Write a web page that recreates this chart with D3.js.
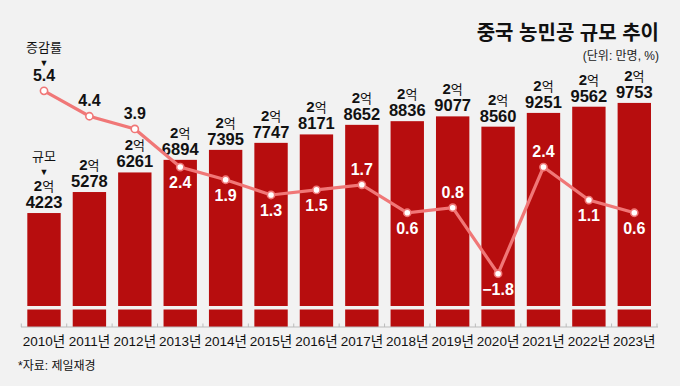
<!DOCTYPE html>
<html>
<head>
<meta charset="utf-8">
<script src="https://cdn.jsdelivr.net/npm/d3@7"></script>
<style>
  body { margin: 0; background: #f2f2f2; }
  svg { display: block; }
  text { font-family: "Liberation Sans Narrow", "Liberation Sans", "Noto Sans CJK KR", sans-serif; }
</style>
</head>
<body>
<svg id="chart"></svg>
<script>
// data (unit: 만명, %)
const years = ["2010년","2011년","2012년","2013년","2014년","2015년","2016년","2017년","2018년","2019년","2020년","2021년","2022년","2023년"];
const workers = [24223, 25278, 26261, 26894, 27395, 27747, 28171, 28652, 28836, 29077, 28560, 29251, 29562, 29753];
const growth = [5.4, 4.4, 3.9, 2.4, 1.9, 1.3, 1.5, 1.7, 0.6, 0.8, -1.8, 2.4, 1.1, 0.6];
const labelAbove = [true, true, true, false, false, false, false, true, false, true, false, true, false, false];

const W = 680, H = 386;
const barColor = "#b70d0e", lineColor = "#f07777", bg = "#f2f2f2";

const svg = d3.select("#chart").attr("width", W).attr("height", H);
svg.append("rect").attr("width", W).attr("height", H).attr("fill", bg);

const x = d3.scaleBand().domain(years).range([21.3, 657]).paddingInner(0.265).paddingOuter(0.1325);
// truncated value axis (bars are cut at the bottom)
const y = d3.scaleLinear().domain([18500, 30000]).range([327, 98]);
const yr = d3.scaleLinear().domain([-2, 6]).range([278.8, 75.6]);
const cx = d => x(d) + x.bandwidth() / 2;

// bars
svg.append("g").selectAll("rect").data(years).join("rect")
  .attr("x", d => x(d))
  .attr("y", (d, i) => y(workers[i]))
  .attr("width", x.bandwidth())
  .attr("height", (d, i) => y(18500) - y(workers[i]))
  .attr("fill", barColor);

// break gap
svg.append("rect").attr("x", 0).attr("y", 306).attr("width", W).attr("height", 3.5).attr("fill", bg);

// x axis
const xAxis = d3.axisBottom(x).tickSize(0).tickPadding(9);
const ax = svg.append("g").attr("transform", "translate(0,327)").call(xAxis);
ax.select(".domain").attr("stroke", "#bbb").attr("d", "M21,0H658");
ax.selectAll("text").attr("font-size", 13.5).attr("fill", "#111").attr("font-family", null);
const bounds = years.map(d => x(d) - x.step() * x.paddingInner() / 2).concat([657]);
svg.append("g").selectAll("line").data(bounds).join("line")
  .attr("x1", d => d).attr("x2", d => d).attr("y1", 323.5).attr("y2", 327)
  .attr("stroke", "#bbb");

// bar value labels
const vl = svg.append("g").attr("text-anchor", "middle").attr("fill", "#111");
vl.selectAll("text.eok").data(years).join("text").attr("class", "eok")
  .attr("x", cx).attr("y", (d, i) => y(workers[i]) - 22)
  .attr("font-size", 13)
  .each(function(d, i) {
    const t = d3.select(this);
    t.append("tspan").attr("font-weight", "bold").attr("font-size", 15).text(Math.floor(workers[i] / 10000));
    t.append("tspan").text("억");
  });
vl.selectAll("text.num").data(years).join("text").attr("class", "num")
  .attr("x", cx).attr("y", (d, i) => y(workers[i]) - 5)
  .attr("font-size", 16.5).attr("font-weight", "bold")
  .text((d, i) => String(workers[i] % 10000).padStart(4, "0"));

// growth line
svg.append("path").datum(years)
  .attr("d", d3.line().x(cx).y((d, i) => yr(growth[i])))
  .attr("fill", "none").attr("stroke", lineColor).attr("stroke-width", 3.2);
svg.append("g").selectAll("circle").data(years).join("circle")
  .attr("cx", cx).attr("cy", (d, i) => yr(growth[i])).attr("r", 3.6)
  .attr("fill", "#fff").attr("stroke", lineColor).attr("stroke-width", 1.6);

svg.append("g").attr("text-anchor", "middle").selectAll("text").data(years).join("text")
  .attr("x", cx)
  .attr("y", (d, i) => yr(growth[i]) + (labelAbove[i] ? -10 : 21))
  .attr("font-size", 16).attr("font-weight", "bold")
  .attr("fill", (d, i) => i < 3 ? "#111" : "#fff")
  .text((d, i) => growth[i] < 0 ? "\u2212" + Math.abs(growth[i]).toFixed(1) : growth[i].toFixed(1));

// series markers on the left
const lx = cx(years[0]);
svg.append("text").attr("x", lx).attr("y", 52).attr("text-anchor", "middle").attr("font-size", 13).attr("fill", "#111").text("증감률");
svg.append("text").attr("x", lx).attr("y", 66).attr("text-anchor", "middle").attr("font-size", 9).attr("fill", "#111").text("▼");
svg.append("text").attr("x", lx).attr("y", 161).attr("text-anchor", "middle").attr("font-size", 13).attr("fill", "#111").text("규모");
svg.append("text").attr("x", lx).attr("y", 175).attr("text-anchor", "middle").attr("font-size", 9).attr("fill", "#111").text("▼");

// title
svg.append("text").attr("x", 659).attr("y", 40).attr("text-anchor", "end")
  .attr("font-size", 20).attr("font-weight", "bold").attr("fill", "#111").text("중국 농민공 규모 추이");
svg.append("text").attr("x", 659).attr("y", 60).attr("text-anchor", "end")
  .attr("font-size", 12).attr("fill", "#222").text("(단위: 만명, %)");

// source
svg.append("text").attr("x", 18).attr("y", 370).attr("font-size", 12).attr("fill", "#111").text("*자료: 제일재경");
</script>
</body>
</html>
